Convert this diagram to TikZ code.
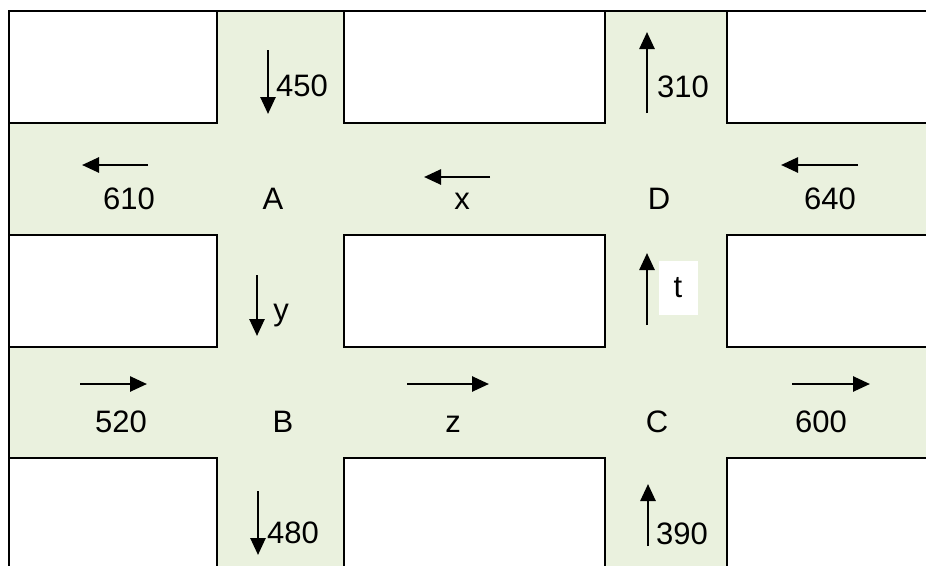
\documentclass[tikz,border=0pt]{standalone}
\usepackage{fontspec}
\setmainfont{Liberation Sans}
\usepackage{xcolor}
\usetikzlibrary{arrows.meta}
\definecolor{street}{RGB}{234,241,222}

\begin{document}
\begin{tikzpicture}[
  x=1pt, y=-1pt,
  block/.style={draw, line width=2.6pt, fill=white},
  flow/.style={-{Triangle[length=17pt,width=15pt]}, line width=2.6pt},
  lbl/.style={font=\fontsize{31}{36}\selectfont, inner sep=0pt, anchor=base}
]
\useasboundingbox (0,0) rectangle (926,565);
\clip (0,0) rectangle (926,565);
\fill[street] (9,11) rectangle (940,580);
\draw[line width=2.6pt] (940,11) -- (9,11) -- (9,580);

% blocks between the streets
\draw[block] (9,11) rectangle (217,123);
\draw[block] (344,11) rectangle (605,123);
\draw[block] (727,11) rectangle (945,123);
\draw[block] (9,235) rectangle (217,347);
\draw[block] (344,235) rectangle (605,347);
\draw[block] (727,235) rectangle (945,347);
\draw[block] (9,458) rectangle (217,590);
\draw[block] (344,458) rectangle (605,590);
\draw[block] (727,458) rectangle (945,590);

% junctions
\node[lbl] (A) at (273,209) {A};
\node[lbl] (B) at (283,432) {B};
\node[lbl] (C) at (657,432) {C};
\node[lbl] (D) at (659,209) {D};

% flows
\node[lbl] (n450) at (302,96) {450};
\node[lbl] (n610) at (129,209) {610};
\node[lbl] (nx) at (462,209) {x};
\node[lbl] (n640) at (830,209) {640};
\node[lbl] (n310) at (683,97) {310};
\node[lbl] (ny) at (281,320) {y};
\node[lbl, anchor=center, fill=white, minimum width=39pt, minimum height=54pt] (nt) at (678,288) {t};
\node[lbl] (n520) at (121,432) {520};
\node[lbl] (nz) at (453,432) {z};
\node[lbl] (n600) at (821,432) {600};
\node[lbl] (n480) at (293,543) {480};
\node[lbl] (n390) at (682,544) {390};

\draw[flow] (268,50) -- (268,114);
\draw[flow] (148,165) -- (82,165);
\draw[flow] (490,177) -- (424,177);
\draw[flow] (858,165) -- (781,165);
\draw[flow] (647,113) -- (647,32);
\draw[flow] (257,275) -- (257,336);
\draw[flow] (647,325) -- (647,253);
\draw[flow] (80,384) -- (147,384);
\draw[flow] (407,384) -- (489,384);
\draw[flow] (792,384) -- (870,384);
\draw[flow] (258,491) -- (258,555);
\draw[flow] (648,546) -- (648,484);
\end{tikzpicture}
\end{document}
